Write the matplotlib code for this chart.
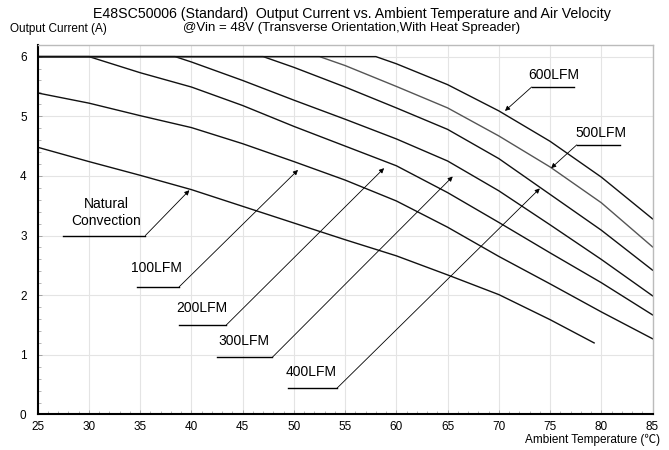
import matplotlib
matplotlib.use("Agg")
import matplotlib.pyplot as plt
from matplotlib.ticker import MultipleLocator

plt.rcParams['font.family'] = ['Liberation Sans', 'Noto Sans CJK SC', 'DejaVu Sans']

# derating curves (ambient temp in C, current in A)
nc_t = [25, 30, 35, 40, 45, 50, 55, 60, 65, 70, 75, 79.3]
nc_i = [4.48, 4.24, 4.01, 3.77, 3.49, 3.21, 2.93, 2.66, 2.34, 2.01, 1.59, 1.20]

lfm100_t = [25, 30, 35, 40, 45, 50, 55, 60, 65, 70, 75, 80, 85]
lfm100_i = [5.39, 5.22, 5.01, 4.81, 4.54, 4.24, 3.93, 3.58, 3.14, 2.65, 2.19, 1.72, 1.27]

lfm200_t = [25, 30, 35, 40, 45, 50, 55, 60, 65, 70, 75, 80, 85]
lfm200_i = [6.0, 6.0, 5.73, 5.49, 5.18, 4.83, 4.50, 4.17, 3.72, 3.22, 2.71, 2.21, 1.67]

lfm300_t = [25, 38.4, 40, 45, 50, 55, 60, 65, 70, 75, 80, 85]
lfm300_i = [6.0, 6.0, 5.91, 5.60, 5.27, 4.95, 4.62, 4.25, 3.75, 3.18, 2.60, 1.99]

lfm400_t = [25, 47, 50, 55, 60, 65, 70, 75, 80, 85]
lfm400_i = [6.0, 6.0, 5.82, 5.49, 5.14, 4.78, 4.29, 3.69, 3.09, 2.42]

lfm500_t = [25, 52.5, 55, 60, 65, 70, 75, 80, 85]
lfm500_i = [6.0, 6.0, 5.85, 5.50, 5.14, 4.67, 4.15, 3.55, 2.81]

lfm600_t = [25, 58, 60, 65, 70, 75, 80, 85]
lfm600_i = [6.0, 6.0, 5.88, 5.53, 5.09, 4.58, 3.98, 3.28]

series = [
    (nc_t, nc_i, '#111111'),
    (lfm100_t, lfm100_i, '#111111'),
    (lfm200_t, lfm200_i, '#111111'),
    (lfm300_t, lfm300_i, '#111111'),
    (lfm400_t, lfm400_i, '#111111'),
    (lfm500_t, lfm500_i, '#555555'),
    (lfm600_t, lfm600_i, '#111111'),
]

# label text, text centre, underline x-range & y, arrow tip
labels = [
    ("Natural\nConvection", (31.7, 3.39), (27.5, 35.5), 3.00, (39.8, 3.76), 'r'),
    ("100LFM", (36.6, 2.46), (34.7, 38.8), 2.14, (50.4, 4.10), 'r'),
    ("200LFM", (41.0, 1.78), (38.8, 43.4), 1.50, (58.8, 4.13), 'r'),
    ("300LFM", (45.1, 1.23), (42.5, 47.9), 0.96, (65.5, 3.99), 'r'),
    ("400LFM", (51.7, 0.71), (49.4, 54.2), 0.44, (74.0, 3.79), 'r'),
    ("500LFM", (80.0, 4.72), (77.6, 81.8), 4.52, (75.1, 4.13), 'l'),
    ("600LFM", (75.4, 5.69), (73.2, 77.3), 5.49, (70.6, 5.09), 'l'),
]

fig = plt.figure(figsize=(6.69, 4.5), dpi=100)
ax = fig.add_axes([0.0564, 0.0789, 0.919, 0.8218])

for t, i, c in series:
    ax.plot(t, i, color=c, lw=1.0)

for text, (tx, ty), (ux0, ux1), uy, tip, side in labels:
    ax.text(tx, ty, text, ha='center', va='center', fontsize=10, linespacing=1.25)
    ax.plot([ux0, ux1], [uy, uy], color='black', lw=1.0)
    start = (ux1, uy) if side == 'r' else (ux0, uy)
    ax.annotate('', xy=tip, xytext=start,
                arrowprops=dict(arrowstyle='-|>', lw=0.6, color='black',
                                mutation_scale=7, shrinkA=0, shrinkB=0))

ax.set_xlim(25, 85)
ax.set_ylim(0, 6.2)
ax.xaxis.set_major_locator(MultipleLocator(5))
ax.xaxis.set_minor_locator(MultipleLocator(1))
ax.yaxis.set_major_locator(MultipleLocator(1))
ax.yaxis.set_minor_locator(MultipleLocator(0.2))
ax.grid(True, which='major', color='#e4e4e4', lw=0.8)
ax.set_axisbelow(True)
ax.tick_params(which='both', direction='in', labelsize=8.5, color='#999999')
ax.tick_params(which='major', length=3, width=0.6)
ax.tick_params(which='minor', length=2.5, width=0.5)
ax.tick_params(axis='y', pad=8)
ax.tick_params(axis='x', pad=5)

for s in ['left', 'bottom']:
    ax.spines[s].set_color('black')
    ax.spines[s].set_linewidth(1.5)
for s in ['top', 'right']:
    ax.spines[s].set_color('#bbbbbb')
    ax.spines[s].set_linewidth(1.0)

fig.text(0.526, 0.969, "E48SC50006 (Standard)  Output Current vs. Ambient Temperature and Air Velocity",
         ha='center', va='center', fontsize=10.2)
fig.text(0.526, 0.938, "@Vin = 48V (Transverse Orientation,With Heat Spreader)",
         ha='center', va='center', fontsize=9.5)
fig.text(0.015, 0.935, "Output Current (A)", ha='left', va='center', fontsize=8.5)
fig.text(0.987, 0.022, "Ambient Temperature (\u2103)", ha='right', va='center', fontsize=8.5)

fig.savefig("out.png", dpi=100)
